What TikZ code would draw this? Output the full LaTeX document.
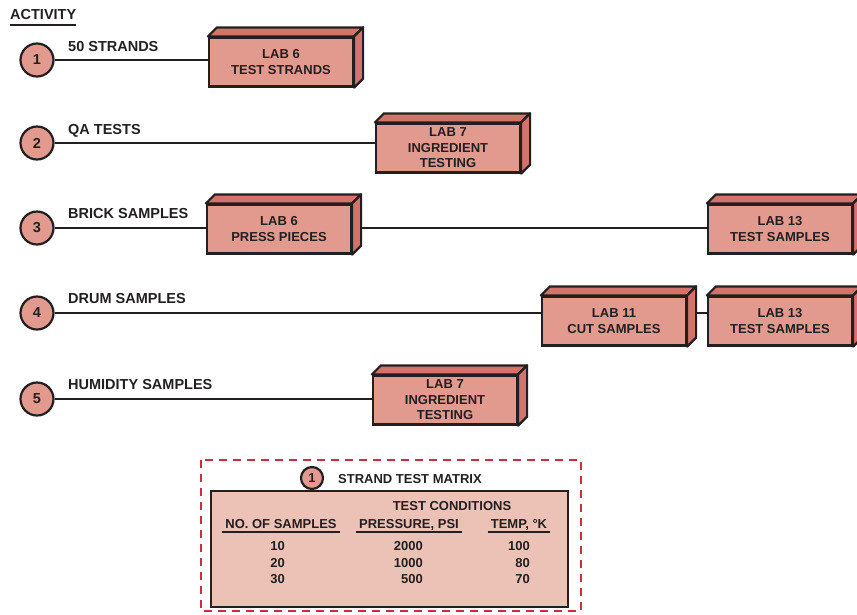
\documentclass[tikz,border=0pt]{standalone}
\usepackage{fontspec}
\setmainfont{Liberation Sans}
\usetikzlibrary{calc}

\definecolor{labfront}{HTML}{E29A8E}
\definecolor{labside}{HTML}{D3736A}
\definecolor{tablefill}{HTML}{EDC2B6}
\definecolor{dashred}{HTML}{C8303C}
\definecolor{ink}{HTML}{231F20}

\tikzset{
  labbox/.style={draw=ink, line width=2.2pt, fill=labfront, minimum width=144pt,
    minimum height=49pt, align=center, inner sep=0pt, text=ink,
    font=\fontsize{13}{15.5}\selectfont\bfseries},
  actcircle/.style={circle, draw=ink, line width=2.2pt, fill=labfront,
    minimum size=33pt, inner sep=0pt, text=ink, font=\fontsize{14.5}{16}\selectfont\bfseries},
  actlabel/.style={anchor=base west, inner sep=0pt, text=ink,
    font=\fontsize{14.5}{16}\selectfont\bfseries},
  wire/.style={draw=ink, line width=2.2pt},
  tabtext/.style={inner sep=0pt, text=ink, font=\fontsize{13}{15}\selectfont\bfseries},
  tabhead/.style={tabtext, anchor=base, inner xsep=3pt},
}

% top and right faces of a lab box
\newcommand{\boxdepth}[1]{%
  \filldraw[fill=labside, draw=ink, line width=2.2pt, line join=round]
    (#1.north west) -- ++(9,-9) -- ($(#1.north east)+(9,-9)$) -- (#1.north east) -- cycle;
  \filldraw[fill=labside, draw=ink, line width=2.2pt, line join=round]
    (#1.north east) -- ++(9,-9) -- ($(#1.south east)+(9,-9)$) -- (#1.south east) -- cycle;}

\begin{document}
\begin{tikzpicture}[x=1pt, y=-1pt]
    \useasboundingbox (0,0) rectangle (857,614);

    % heading
    \node[actlabel] (act) at (10,19) {ACTIVITY};
    \draw[line width=1.8pt, ink] ([yshift=-6pt]act.base west) -- ([yshift=-6pt]act.base east);

    % activity circles
    \node[actcircle] (c1) at (37,60) {1};
    \node[actcircle] (c2) at (37,143) {2};
    \node[actcircle] (c3) at (37,228) {3};
    \node[actcircle] (c4) at (37,313) {4};
    \node[actcircle] (c5) at (37,399) {5};

    \node[actlabel] (l1) at (68,51) {50 STRANDS};
    \node[actlabel] (l2) at (68,134) {QA TESTS};
    \node[actlabel] (l3) at (68,218) {BRICK SAMPLES};
    \node[actlabel] (l4) at (68,303) {DRUM SAMPLES};
    \node[actlabel] (l5) at (68,389) {HUMIDITY SAMPLES};

    % lab boxes
    \node[labbox] (b1) at (281,62) {LAB 6\\TEST STRANDS};
    \boxdepth{b1}
    \node[labbox] (b2) at (448,148) {LAB 7\\INGREDIENT\\TESTING};
    \boxdepth{b2}
    \node[labbox] (b3a) at (279,229) {LAB 6\\PRESS PIECES};
    \boxdepth{b3a}
    \node[labbox] (b3b) at (780,229) {LAB 13\\TEST SAMPLES};
    \boxdepth{b3b}
    \node[labbox] (b4a) at (614,321) {LAB 11\\CUT SAMPLES};
    \boxdepth{b4a}
    \node[labbox] (b4b) at (780,321) {LAB 13\\TEST SAMPLES};
    \boxdepth{b4b}
    \node[labbox] (b5) at (445,400) {LAB 7\\INGREDIENT\\TESTING};
    \boxdepth{b5}

    % connectors
    \draw[wire] (c1.east) -- (c1 -| b1.west);
    \draw[wire] (c2.east) -- (c2 -| b2.west);
    \draw[wire] (c3.east) -- (c3 -| b3a.west);
    \draw[wire] (b3a.east |- c3) ++(9,0) -- (c3 -| b3b.west);
    \draw[wire] (c4.east) -- (c4 -| b4a.west);
    \draw[wire] (b4a.east |- c4) ++(9,0) -- (c4 -| b4b.west);
    \draw[wire] (c5.east) -- (c5 -| b5.west);

    % strand test matrix
    \draw[dashred, line width=2.2pt, dash pattern=on 8pt off 6pt] (201,460) rectangle (581,611);
    \draw[ink, line width=2.2pt, fill=tablefill] (211,491) rectangle (568,607);
    \node[actcircle, minimum size=22pt, font=\fontsize{13}{14}\selectfont\bfseries] (m1) at (312,478) {1};
    \node[tabtext, anchor=base west] (mtitle) at (338,483) {STRAND TEST MATRIX};

    \node[tabtext, anchor=base] (cond) at (452,510) {TEST CONDITIONS};
    \node[tabhead] (hsamp) at (281,528) {NO. OF SAMPLES};
    \node[tabhead] (hpres) at (409,528) {PRESSURE, PSI};
    \node[tabhead] (htemp) at (519,528) {TEMP, \textdegree K};
    \foreach \h in {hsamp,hpres,htemp}
        \draw[ink, line width=2pt] ([yshift=-4pt]\h.base west) -- ([yshift=-4pt]\h.base east);

    \node[tabtext, anchor=base east] (n1) at (285,550) {10};
    \node[tabtext, anchor=base east] (n2) at (285,567) {20};
    \node[tabtext, anchor=base east] (n3) at (285,583) {30};
    \node[tabtext, anchor=base east] (p1) at (423,550) {2000};
    \node[tabtext, anchor=base east] (p2) at (423,567) {1000};
    \node[tabtext, anchor=base east] (p3) at (423,583) {500};
    \node[tabtext, anchor=base east] (t1) at (530,550) {100};
    \node[tabtext, anchor=base east] (t2) at (530,567) {80};
    \node[tabtext, anchor=base east] (t3) at (530,583) {70};
\end{tikzpicture}
\end{document}
